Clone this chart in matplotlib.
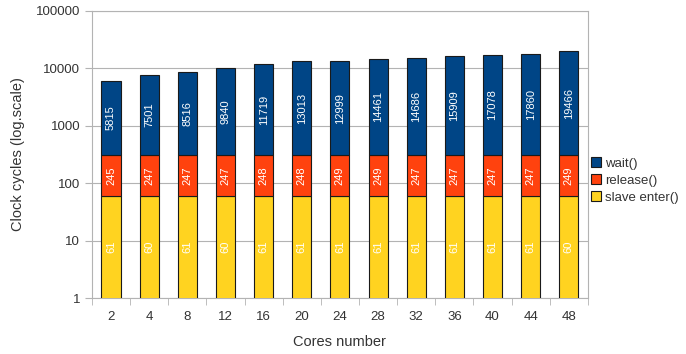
import numpy as np
import matplotlib.pyplot as plt
from matplotlib.ticker import FixedLocator, NullFormatter

plt.rcParams["font.family"] = ["Liberation Sans", "DejaVu Sans"]

cores = ["2", "4", "8", "12", "16", "20", "24", "28", "32", "36", "40", "44", "48"]
slave_enter = [61, 60, 61, 60, 61, 61, 61, 61, 61, 61, 61, 61, 60]
release = [245, 247, 247, 247, 248, 248, 249, 249, 247, 247, 247, 247, 249]
wait = [5815, 7501, 8516, 9840, 11719, 13013, 12999, 14461, 14686, 15909, 17078, 17860, 19466]

series = [
    ("slave enter()", slave_enter, "#ffd320"),
    ("release()", release, "#ff420e"),
    ("wait()", wait, "#004586"),
]

fig = plt.figure(figsize=(6.86, 3.54), dpi=100)
ax = fig.add_axes([0.134, 0.158, 0.723, 0.811])
ax.set_yscale("log")

x = np.arange(len(cores))
bottom = np.zeros(len(cores))
handles = []
for name, vals, color in series:
    vals = np.array(vals, dtype=float)
    bars = ax.bar(x, vals, bottom=bottom, width=0.5, color=color,
                  edgecolor="#1a1a1a", linewidth=0.8, label=name, zorder=3)
    handles.append(bars)
    # labels sit at the log-midpoint of each segment
    for xi, b, v in zip(x, bottom, vals):
        lo = max(b, 1.0)
        ymid = np.sqrt(lo * (b + v))
        ax.text(xi, ymid, f"{int(v)}", rotation=90, ha="center", va="center",
                color="white", fontsize=8, zorder=4)
    bottom = bottom + vals

ax.set_xlim(-0.5, len(cores) - 0.5)
ax.set_ylim(1, 100000)
ax.set_xticks(x)
ax.set_xticklabels(cores)
ax.xaxis.set_minor_locator(FixedLocator(np.arange(-0.5, len(cores), 1.0)))
ax.tick_params(axis="x", which="major", length=0, pad=9, labelsize=9.5, colors="#333333")
ax.tick_params(axis="x", which="minor", length=5, color="#b3b3b3", direction="out")
ax.set_yticks([1, 10, 100, 1000, 10000, 100000])
ax.set_yticklabels(["1", "10", "100", "1000", "10000", "100000"])
ax.yaxis.set_minor_locator(FixedLocator([]))
ax.yaxis.set_minor_formatter(NullFormatter())
ax.tick_params(axis="y", which="major", length=5, labelsize=9.5,
               colors="#333333", direction="out")
ax.tick_params(axis="y", which="major", color="#b3b3b3")

ax.grid(axis="y", color="#b3b3b3", linewidth=0.8, zorder=0)
for s in ax.spines.values():
    s.set_color("#b3b3b3")
    s.set_linewidth(0.8)

ax.set_xlabel("Cores number", fontsize=10.5, color="#333333", labelpad=9)
ax.set_ylabel("Clock cycles (log.scale)", fontsize=10.5, color="#333333", labelpad=8)

leg = ax.legend(handles[::-1], [s[0] for s in series][::-1], loc="center left",
                bbox_to_anchor=(0.99, 0.41), frameon=False, fontsize=9.5,
                handlelength=0.75, handleheight=0.75, handletextpad=0.35,
                labelspacing=0.35, borderaxespad=0.2)
for t in leg.get_texts():
    t.set_color("#333333")

fig.savefig("out.png", dpi=100)
